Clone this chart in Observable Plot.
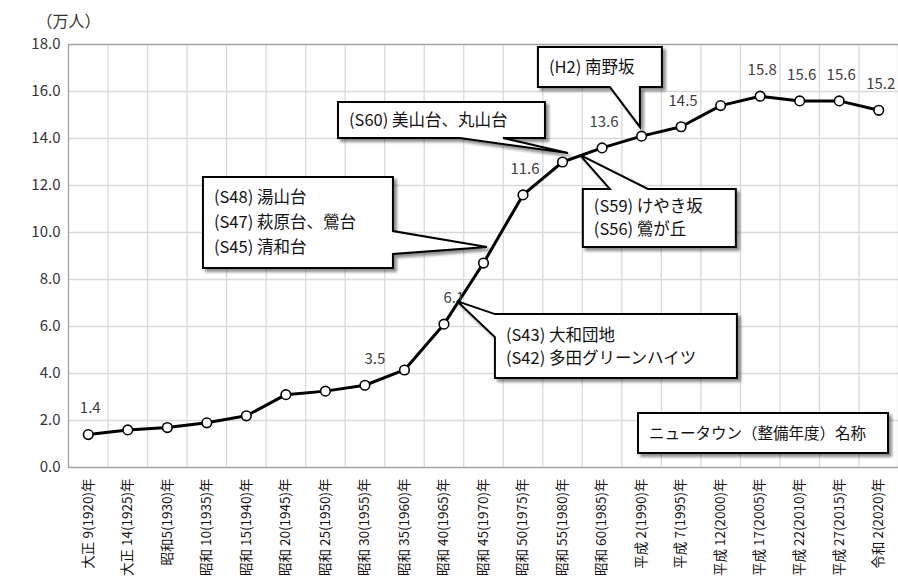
<!DOCTYPE html>
<html><head><meta charset="utf-8">
<script src="https://cdn.jsdelivr.net/npm/d3@7"></script>
<script src="https://cdn.jsdelivr.net/npm/@observablehq/plot@0.6"></script>
<style>
body{margin:0;background:#fff;}
#chart{width:898px;height:580px;overflow:hidden;}
svg{font-family:"Noto Sans CJK JP","Noto Sans",sans-serif;}
</style></head>
<body><div id="chart"></div>
<script>
const yearLabels = ["大正 9(1920)年","大正 14(1925)年","昭和5(1930)年","昭和 10(1935)年","昭和 15(1940)年","昭和 20(1945)年","昭和 25(1950)年","昭和 30(1955)年","昭和 35(1960)年","昭和 40(1965)年","昭和 45(1970)年","昭和 50(1975)年","昭和 55(1980)年","昭和 60(1985)年","平成 2(1990)年","平成 7(1995)年","平成 12(2000)年","平成 17(2005)年","平成 22(2010)年","平成 27(2015)年","令和 2(2020)年"];
const population = [1.4,1.6,1.7,1.9,2.2,3.1,3.25,3.5,4.15,6.1,8.7,11.6,13.0,13.6,14.1,14.5,15.4,15.8,15.6,15.6,15.2];
const labeledIdx = [0,7,9,11,13,15,17,18,19,20];
const yTicks = [0,2,4,6,8,10,12,14,16,18];
const unitLabel = "（万人）";
const legendText = "ニュータウン（整備年度）名称";
// callouts: tip anchored in data coords (category index, value)
const callouts = [
  {tip:[10.10,9.36], lines:["(S48) 湯山台","(S47) 萩原台、鶯台","(S45) 清和台"]},
  {tip:[9.34,7.06], lines:["(S43) 大和団地","(S42) 多田グリーンハイツ"]},
  {tip:[12.15,13.36], lines:["(S60) 美山台、丸山台"]},
  {tip:[13.97,14.47], lines:["(H2) 南野坂"]},
  {tip:[12.45,13.28], lines:["(S59) けやき坂","(S56) 鶯が丘"]}
];
// layout (pixel offsets relative to tip): box [l,t,r,b], pointer edge (0 top,1 right,2 bottom,3 left) and base span
const calloutLayout = [
  {box:[-284,-70,-94,21], edge:1, base:[-16,7]},
  {box:[38,13,280,77], edge:3, base:[13,36]},
  {box:[-230,-51,-23,-15], edge:2, base:[-108,-65]},
  {box:[-102,-80,22,-40], edge:2, base:[-30,0]},
  {box:[3,34,156,92], edge:0, base:[30,68]}
];

const data = population.map((v,i)=>({i, v}));
const n = population.length;

const svg = Plot.plot({
  width: 898, height: 580,
  marginTop: 44, marginBottom: 113, marginLeft: 68, marginRight: 0,
  style: {fontFamily: '"Noto Sans CJK JP","Noto Sans",sans-serif', background: "#fff"},
  x: {domain: [-0.5, n - 0.5]},
  y: {domain: [0, 18]},
  marks: [
    Plot.gridY(yTicks, {stroke: "#d9d9d9", strokeOpacity: 1, strokeWidth: 1.3}),
    Plot.ruleX(d3.range(n - 1).map(i => i + 0.5), {stroke: "#d9d9d9", strokeWidth: 1.3}),
    Plot.frame({stroke: "#a0a0a0", strokeWidth: 1.3}),
    Plot.axisY(yTicks, {tickFormat: d3.format(".1f"), tickSize: 0, tickPadding: 8, fontSize: 15, fill: "#333", label: null}),
    Plot.axisX(d3.range(n), {tickFormat: i => yearLabels[i], tickRotate: -90, tickSize: 0, tickPadding: 11, fontSize: 13.5, fill: "#111", label: null}),
    Plot.line(data, {x: "i", y: "v", stroke: "#000", strokeWidth: 3}),
    Plot.dot(data, {x: "i", y: "v", r: 4.8, fill: "#fff", stroke: "#000", strokeWidth: 1.6}),
    Plot.text(labeledIdx.map(i => data[i]), {x: d => d.i + ((d.i === 7 || d.i === 9) ? 0.25 : 0.05), y: "v", text: d => d.v.toFixed(1), dy: -26, fontSize: 15, fill: "#404040"}),
    Plot.text([unitLabel], {frameAnchor: "top-left", dx: -32, dy: -29, fontSize: 16, fill: "#333"})
  ]
});

const xs = svg.scale("x"), ys = svg.scale("y");
const defs = d3.select(svg).append("defs");
defs.append("filter").attr("id","sh").attr("x","-10%").attr("y","-10%").attr("width","130%").attr("height","140%")
  .append("feDropShadow").attr("dx",3).attr("dy",3).attr("stdDeviation",1.5).attr("flood-color","#000").attr("flood-opacity",0.45);
const g = d3.select(svg).append("g").attr("text-anchor","start");

function drawBox(x0,y0,x1,y1,tip,edge,base,lines,lineH,fs){
  const grp = g.append("g");
  const corners = [[x0,y0],[x1,y0],[x1,y1],[x0,y1]];
  const pts = [];
  for (let k=0;k<4;k++){
    pts.push(corners[k]);
    if (tip && k===edge){
      let a, b, pa, pb;
      if (edge===0){ a=Math.min(...base); b=Math.max(...base); pa=[tip[0]+a,y0]; pb=[tip[0]+b,y0]; }
      if (edge===1){ a=Math.min(...base); b=Math.max(...base); pa=[x1,tip[1]+a]; pb=[x1,tip[1]+b]; }
      if (edge===2){ a=Math.max(...base); b=Math.min(...base); pa=[tip[0]+a,y1]; pb=[tip[0]+b,y1]; }
      if (edge===3){ a=Math.max(...base); b=Math.min(...base); pa=[x0,tip[1]+a]; pb=[x0,tip[1]+b]; }
      pts.push(pa, tip, pb);
    }
  }
  grp.append("polygon").attr("points", pts.map(p=>p.join(",")).join(" "))
    .attr("fill","#fff").attr("stroke","#000").attr("stroke-width",2).attr("stroke-linejoin","miter")
    .attr("filter","url(#sh)");
  const t = grp.append("text").attr("font-size",fs).attr("fill","#111").attr("text-anchor","start");
  const totalH = lineH * lines.length;
  const startY = (y0+y1)/2 - totalH/2 + lineH/2;
  lines.forEach((s,k)=>{
    t.append("tspan").attr("x", x0+11).attr("y", startY + k*lineH).attr("dy","0.36em").text(s);
  });
}

callouts.forEach((c,k)=>{
  const L = calloutLayout[k];
  const tx = xs.apply(c.tip[0]), ty = ys.apply(c.tip[1]);
  const [l,t,r,b] = L.box;
  drawBox(tx+l, ty+t, tx+r, ty+b, [tx,ty], L.edge, L.base, c.lines, c.lines.length===3?25:23, 16.5);
});
{
  const fx1 = xs.apply(n-0.5), fy1 = ys.apply(0);
  drawBox(fx1-260, fy1-54, fx1-10, fy1-14, null, null, null, [legendText], 23, 15.5);
}
document.getElementById("chart").appendChild(svg);
</script>
</body></html>
